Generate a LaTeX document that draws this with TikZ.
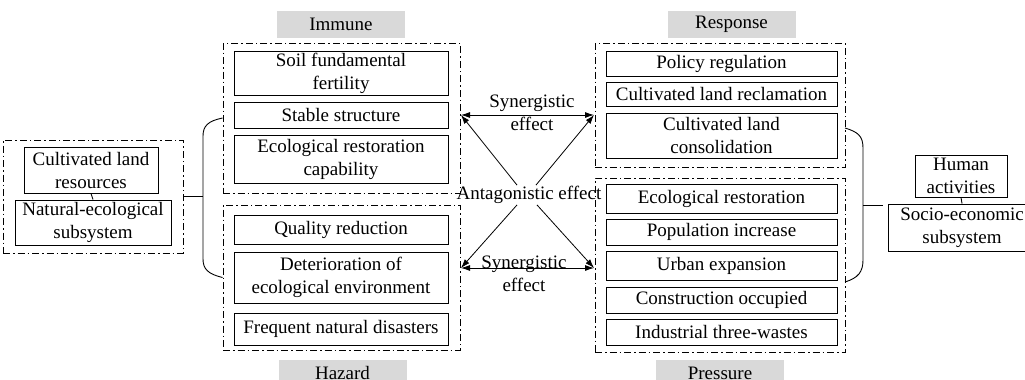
\documentclass[tikz,border=0pt]{standalone}
\usepackage{fontspec}
\setmainfont{Liberation Serif}
\usetikzlibrary{positioning,arrows.meta,calc}

\begin{document}
\begin{tikzpicture}[x=1pt, y=-1pt,
                    item/.style={rectangle, draw, line width=0.9pt, inner sep=0pt, align=center, font=\fontsize{19}{23}\selectfont},
                    group/.style={rectangle, draw, line width=1pt, dash pattern=on 7pt off 3pt on 1.5pt off 3pt, inner sep=0pt},
                    tag/.style={rectangle, fill=black!15, inner sep=0pt, minimum width=128pt, minimum height=27pt, font=\fontsize{19}{23}\selectfont},
                    link/.style={line width=0.8pt, {Latex[length=9pt,width=6pt]}-{Latex[length=9pt,width=6pt]}},
                    cross/.style={line width=0.8pt, -{Latex[length=9pt,width=6pt]}}]
    \clip (0,0) rectangle (1025,380);
    % Natural-ecological side
    \node[group, minimum width=180pt, minimum height=113pt] (nat) at (93,196.5) {};
    \node[item, minimum width=134pt, minimum height=46pt] (clr) at (91,170) {Cultivated land\\resources};
    \node[item, minimum width=156pt, minimum height=45pt] (nes) at (93,222.5) {Natural-ecological\\subsystem};
    \draw[line width=0.9pt] (clr.south) -- (nes.north);

    % Immune
    \node[tag] (immtag) at (341,24.5) {Immune};
    \node[group, minimum width=237pt, minimum height=150pt] (imm) at (341.5,118) {};
    \node[item, minimum width=214pt, minimum height=44pt] (soil) at (341,73) {Soil fundamental\\fertility};
    \node[item, minimum width=214pt, minimum height=26pt] (stab) at (341,115) {Stable structure};
    \node[item, minimum width=214pt, minimum height=48pt] (erc) at (341,159) {Ecological restoration\\capability};

    % Hazard
    \node[group, minimum width=237pt, minimum height=145pt] (haz) at (341.5,277.5) {};
    \node[item, minimum width=214pt, minimum height=29pt] (qual) at (341,229.5) {Quality reduction};
    \node[item, minimum width=214pt, minimum height=51pt] (deter) at (341,277.5) {Deterioration of\\ecological environment};
    \node[item, minimum width=214pt, minimum height=32pt] (freq) at (341,329) {Frequent natural disasters};
    \node[tag, minimum height=26pt] (haztag) at (342.5,373) {Hazard};

    % Response
    \node[tag] (restag) at (731.5,24.5) {Response};
    \node[group, minimum width=250pt, minimum height=124pt] (res) at (720,105) {};
    \node[item, minimum width=231pt, minimum height=25pt] (pol) at (721.5,63.5) {Policy regulation};
    \node[item, minimum width=231pt, minimum height=24pt] (recl) at (721.5,94) {Cultivated land reclamation};
    \node[item, minimum width=231pt, minimum height=45pt] (cons) at (721.5,135.5) {Cultivated land\\consolidation};

    % Pressure
    \node[group, minimum width=250pt, minimum height=174pt] (pre) at (720,265) {};
    \node[item, minimum width=231pt, minimum height=29pt] (erst) at (721.5,198.5) {Ecological restoration};
    \node[item, minimum width=231pt, minimum height=26pt] (pop) at (721.5,232) {Population increase};
    \node[item, minimum width=231pt, minimum height=29pt] (urb) at (721.5,265.5) {Urban expansion};
    \node[item, minimum width=231pt, minimum height=26pt] (constr) at (721.5,300) {Construction occupied};
    \node[item, minimum width=231pt, minimum height=26pt] (ind) at (721.5,332) {Industrial three-wastes};
    \node[tag, minimum height=26pt] (pretag) at (720,373) {Pressure};

    % Socio-economic side
    \node[item, minimum width=92pt, minimum height=42pt] (hum) at (961,176) {Human\\activities};
    \node[item, minimum width=148pt, minimum height=47pt] (soc) at (962,227.5) {Socio-economic\\subsystem};
    \draw[line width=0.9pt] (hum.south) -- (soc.north);

    % Braces
    \draw[line width=0.9pt] (imm.west) .. controls (208,121) and (203,126) .. (203,136) -- (203,259)
        .. controls (203,269) and (208,274) .. (haz.west);
    \draw[line width=0.9pt] (nat.east) -- (203,196.5);
    \coordinate (rbt) at (845,128);
    \coordinate (rbb) at (845,282);
    \coordinate (rbm) at (883,205);
    \draw[line width=0.9pt] (rbt) .. controls (858,132) and (863,136) .. (863,148) -- (863,260)
        .. controls (863,272) and (858,278) .. (rbb);
    \draw[line width=0.9pt] (863,205) -- (rbm);

    % Effects
    \coordinate (tl) at (461,115);
    \coordinate (tr) at (594,115);
    \coordinate (bl) at (461,268);
    \coordinate (br) at (594,268);
    \node[font=\fontsize{19}{23}\selectfont, inner sep=1pt] (ant) at (529,195) {Antagonistic effect};
    \draw[link] (tl) -- (tr);
    \draw[link] (bl) -- (br);
    \node[font=\fontsize{19}{23}\selectfont, align=center] (syn1) at (532,113) {Synergistic\\effect};
    \node[font=\fontsize{19}{23}\selectfont, align=center] (syn2) at (524,274) {Synergistic\\effect};
    \draw[cross] ([xshift=-12pt]ant.north) -- (tl);
    \draw[cross] ([xshift=7pt]ant.north) -- (tr);
    \draw[cross] ([xshift=-12pt]ant.south) -- (bl);
    \draw[cross] ([xshift=8pt]ant.south) -- (br);
\end{tikzpicture}
\end{document}
